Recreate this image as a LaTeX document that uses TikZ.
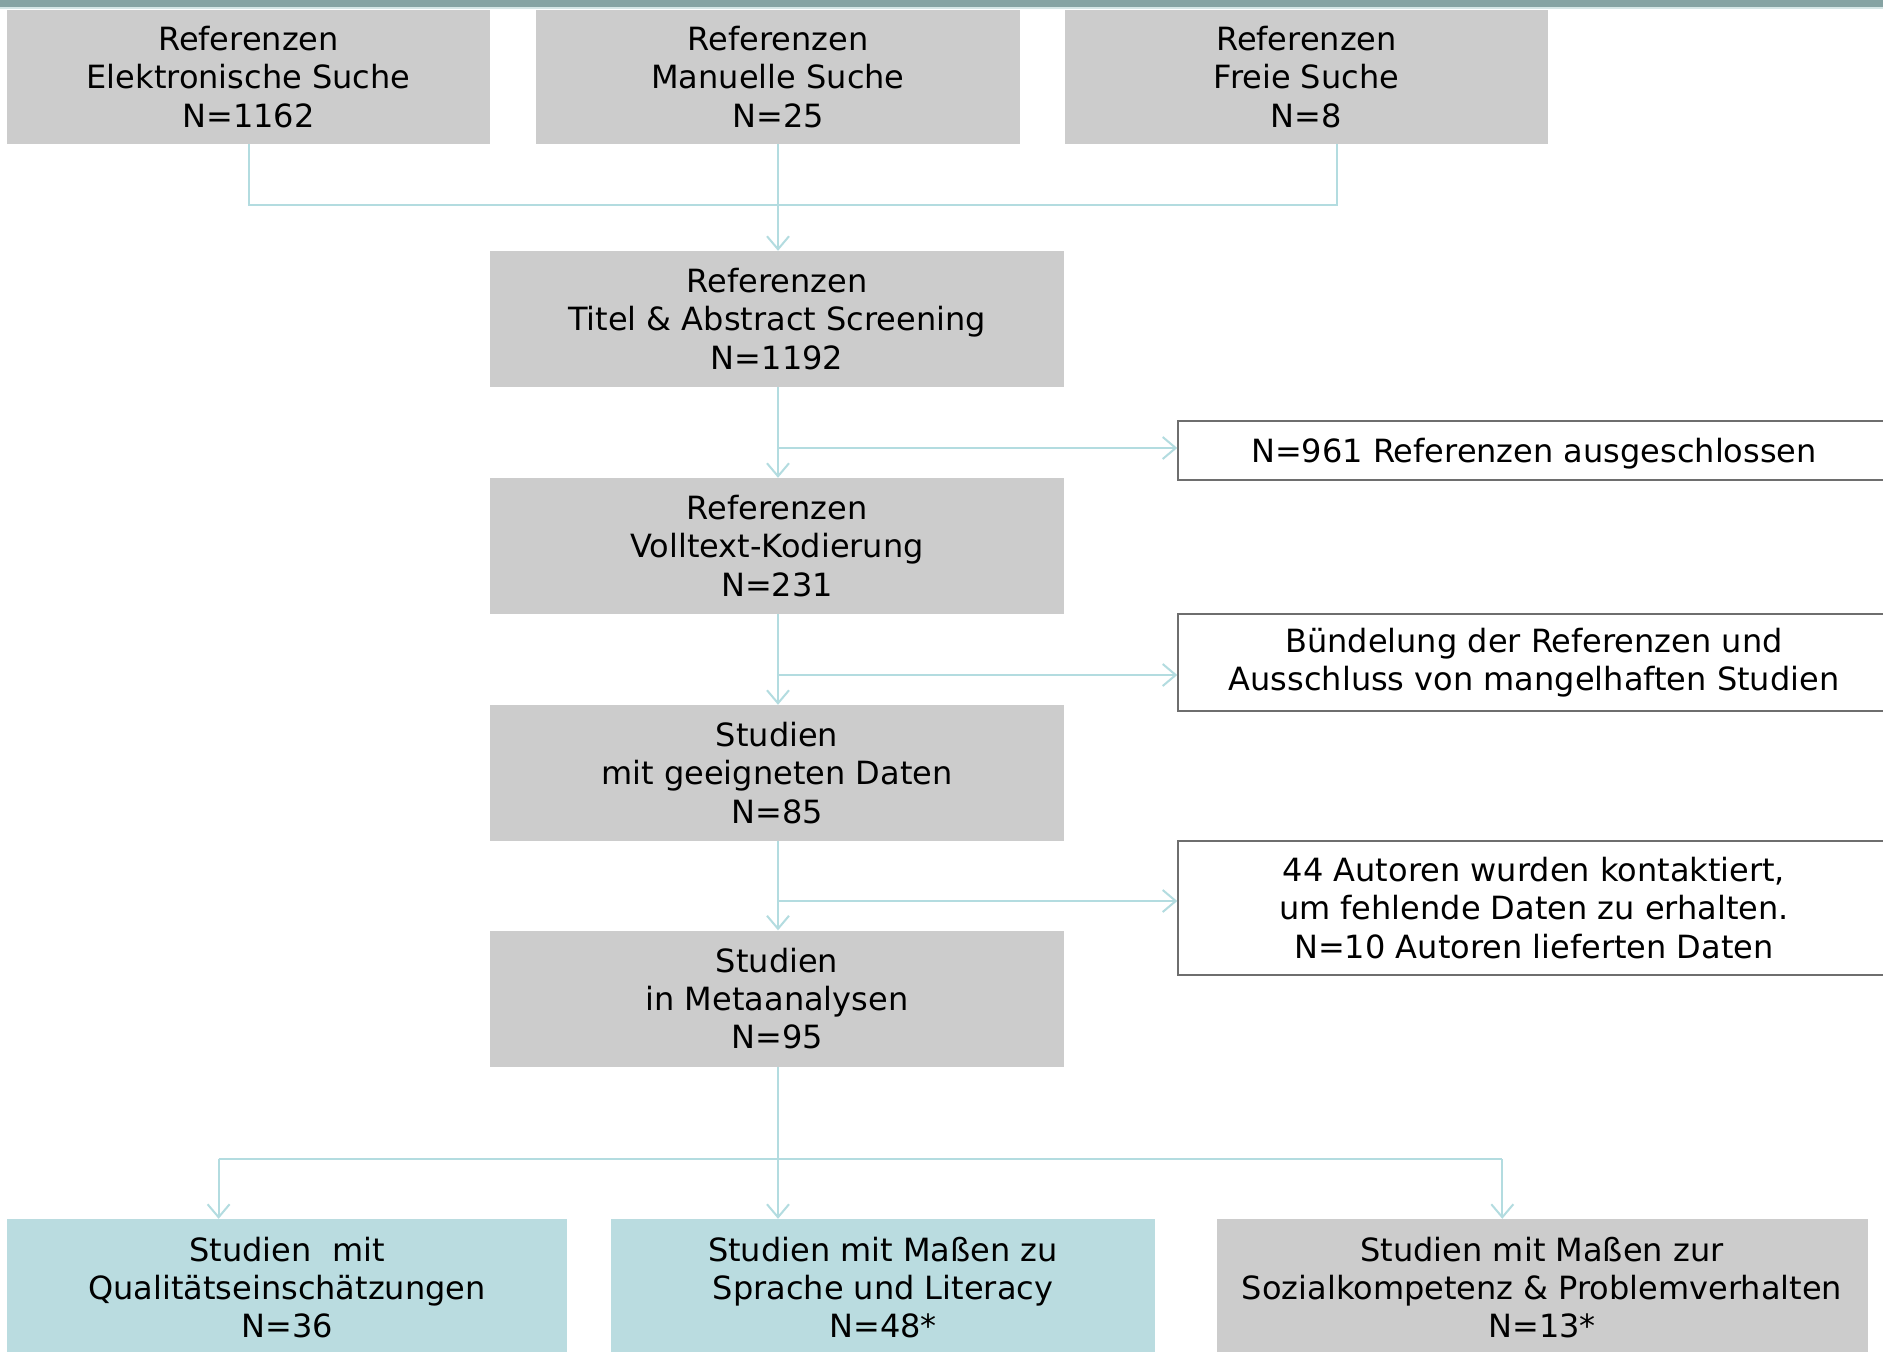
\documentclass[tikz,border=0pt]{standalone}
\usepackage{fontspec}
\setmainfont{DejaVu Sans}
\usetikzlibrary{arrows.meta}
\definecolor{boxgrey}{HTML}{CCCCCC}
\definecolor{boxteal}{HTML}{BADCE0}
\definecolor{linkc}{HTML}{B3DCE0}
\definecolor{barc}{HTML}{86A3A3}
\definecolor{barlight}{HTML}{D6E6E6}
\definecolor{exclb}{HTML}{6E6E6E}
\tikzset{
  box/.style={rectangle, inner sep=0pt, align=center, text=black,
    font=\fontsize{32}{38.4}\selectfont},
  greybox/.style={box, fill=boxgrey},
  tealbox/.style={box, fill=boxteal},
  exclbox/.style={box, draw=exclb, line width=1.5pt, fill=white},
  link/.style={draw=linkc, line width=2pt},
  arr/.style={link, -{Straight Barb[length=13pt,width=22pt,line width=2pt]}}
}
\begin{document}
\begin{tikzpicture}[x=1pt,y=-1pt]
\clip (0,0) rectangle (1883,1352);
\fill[white] (0,0) rectangle (1883,1352);
\fill[barc] (0,0) rectangle (1883,7);
\fill[barlight] (0,7) rectangle (1883,9);

\node[greybox, minimum width=483, minimum height=134] (b1) at (248.5,77)
  {Referenzen\\Elektronische Suche\\N=1162};
\node[greybox, minimum width=484, minimum height=134] (b2) at (778,77)
  {Referenzen\\Manuelle Suche\\N=25};
\node[greybox, minimum width=483, minimum height=134] (b3) at (1306.5,77)
  {Referenzen\\Freie Suche\\N=8};

\node[greybox, minimum width=574, minimum height=136] (b4) at (777,319)
  {Referenzen\\Titel \& Abstract Screening\\N=1192};
\node[greybox, minimum width=574, minimum height=136] (b5) at (777,546)
  {Referenzen\\Volltext-Kodierung\\N=231};
\node[greybox, minimum width=574, minimum height=136] (b6) at (777,773)
  {Studien\\mit geeigneten Daten\\N=85};
\node[greybox, minimum width=574, minimum height=136] (b7) at (777,998.5)
  {Studien\\in Metaanalysen\\N=95};

\node[exclbox, minimum width=712, minimum height=59,
  label={[box, yshift=-3pt]center:N=961 Referenzen ausgeschlossen}] (e1) at (1534,450.5) {};
\node[exclbox, minimum width=712, minimum height=97] (e2) at (1534,662.5)
  {Bündelung der Referenzen und\\Ausschluss von mangelhaften Studien};
\node[exclbox, minimum width=712, minimum height=134] (e3) at (1534,908)
  {44 Autoren wurden kontaktiert,\\um fehlende Daten zu erhalten.\\N=10 Autoren lieferten Daten};

\node[tealbox, minimum width=560, minimum height=137] (b8) at (287,1287.5)
  {Studien\ \ mit\\Qualitätseinschätzungen\\N=36};
\node[tealbox, minimum width=544, minimum height=137] (b9) at (883,1287.5)
  {Studien mit Maßen zu\\Sprache und Literacy\\N=48*};
\node[greybox, minimum width=651, minimum height=137] (b10) at (1542,1287.5)
  {Studien mit Maßen zur\\Sozialkompetenz \& Problemverhalten\\N=13*};

% top merge
\coordinate (j) at (778,205);
\draw[link] (b1.south) |- (j) -| ([xshift=30pt]b3.south);
\draw[arr] (b2.south -| j) -- (j |- b4.north);

% main chain with exclusions
\draw[arr] (b4.south -| j) -- (j |- b5.north);
\coordinate (k1) at (778,448);
\draw[arr] (k1) -- (k1 -| e1.west);
\draw[arr] (b5.south -| j) -- (j |- b6.north);
\coordinate (k2) at (778,675);
\draw[arr] (k2) -- (k2 -| e2.west);
\draw[arr] (b6.south -| j) -- (j |- b7.north);
\coordinate (k3) at (778,901);
\draw[arr] (k3) -- (k3 -| e3.west);

% bottom split
\draw[arr] (b7.south -| j) -- (j |- b9.north);
\coordinate (hL) at (218.6,1159);
\coordinate (hR) at (1502.3,1159);
\draw[link] (hL) -- (hR);
\draw[arr] (hL) -- (hL |- b8.north);
\draw[arr] (hR) -- (hR |- b10.north);
\end{tikzpicture}
\end{document}
